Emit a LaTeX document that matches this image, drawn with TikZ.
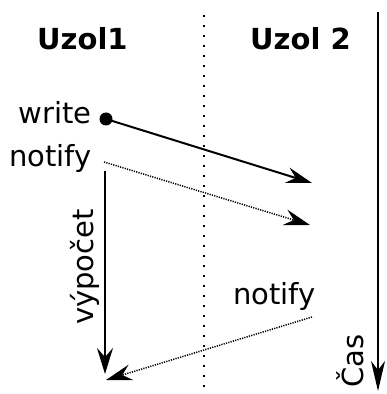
\documentclass[tikz,border=0pt]{standalone}
\usepackage{fontspec}
\setmainfont{DejaVu Sans}
\usetikzlibrary{arrows.meta}
\begin{document}
\begin{tikzpicture}[x=1pt,y=1pt,
  txt/.style={inner sep=0pt, font=\fontsize{29}{34}\selectfont},
  ttl/.style={inner sep=0pt, font=\fontsize{29}{34}\selectfont\bfseries},
  big/.style={-{Stealth[length=26pt,width=16pt,inset=9pt]}},
  solidarrow/.style={big, line width=2pt},
  dotarrow/.style={big, line width=1.5pt, dash pattern=on 1.2pt off 1.2pt},
  sep/.style={line width=1.8pt, dash pattern=on 1.8pt off 8.2pt}
]
\useasboundingbox (0,0) rectangle (386,394);
% titles
\node[ttl, anchor=base west] (u1) at (37,344) {Uzol1};
\node[ttl, anchor=base west] (u2) at (250,344) {Uzol 2};
% separator and time axis
\coordinate (sepT) at (204,379);
\coordinate (sepB) at (204,6);
\draw[sep] (sepT) -- (sepB);
\coordinate (timeT) at (378,382);
\coordinate (timeB) at (378,3);
\draw[line width=2pt, -{Stealth[length=30pt,width=14pt,inset=9pt]}] (timeT) -- (timeB);
\node[txt, anchor=base west, rotate=90] (cas) at (363,6) {Čas};
% labels
\node[txt, anchor=base east] (write) at (92,270) {write};
\node[txt, anchor=base east] (notify1) at (92,227) {notify};
\node[txt, anchor=base east] (notify2) at (316,89) {notify};
\node[txt, anchor=base west, rotate=90] (vyp) at (93,69) {výpočet};
% points
\coordinate (w0) at (106,275);
\fill (w0) circle (6.5pt);
\coordinate (w1) at (312,211);
\coordinate (n0) at (104,232);
\coordinate (n1) at (310,169);
\coordinate (c0) at (105,223);
\coordinate (c1) at (105,20);
\coordinate (r0) at (312,77);
\coordinate (r1) at (106,14);
% connectors
\draw[solidarrow] (w0) -- (w1);
\draw[dotarrow] (n0) -- (n1);
\draw[solidarrow] (c0) -- (c1);
\draw[dotarrow] (r0) -- (r1);
\end{tikzpicture}
\end{document}
